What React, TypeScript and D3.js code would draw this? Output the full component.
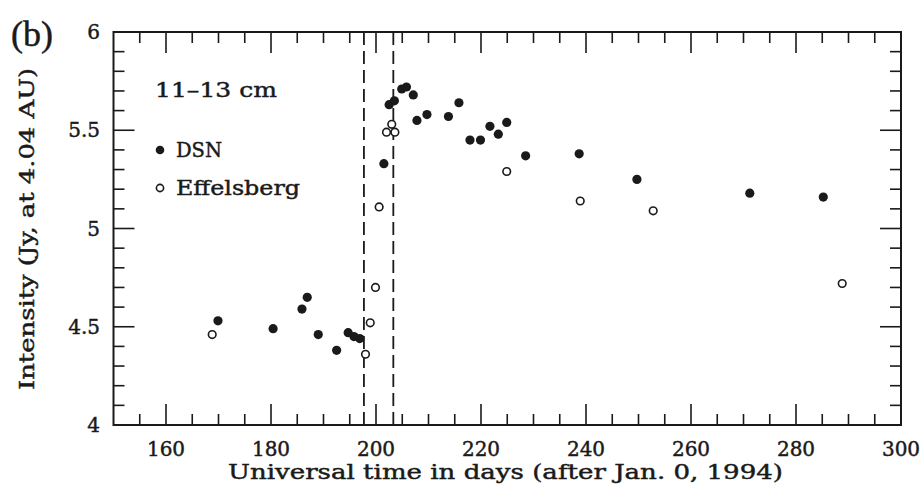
import React from "react";
import * as d3 from "d3";

// DSN (filled) measurements: day of 1994, flux density in Jy at 4.04 AU
const dsnDays = [169.9, 180.4, 185.9, 186.9, 189.0, 192.5, 194.7, 195.8, 196.9, 201.5, 202.5, 203.5, 204.9, 205.8, 207.1, 207.8, 209.7, 213.8, 215.8, 217.9, 219.9, 221.7, 223.3, 224.9, 228.5, 238.7, 249.7, 271.2, 285.2];
const dsnFlux = [4.53, 4.49, 4.59, 4.65, 4.46, 4.38, 4.47, 4.45, 4.44, 5.33, 5.63, 5.65, 5.71, 5.72, 5.68, 5.55, 5.58, 5.57, 5.64, 5.45, 5.45, 5.52, 5.48, 5.54, 5.37, 5.38, 5.25, 5.18, 5.16];

// Effelsberg (open) measurements
const effDays = [168.8, 198.0, 198.9, 199.9, 200.6, 202.0, 203.0, 203.6, 224.9, 238.9, 252.8, 288.8];
const effFlux = [4.46, 4.36, 4.52, 4.70, 5.11, 5.49, 5.53, 5.49, 5.29, 5.14, 5.09, 4.72];

// Impact period boundaries (dashed lines)
const impactDays = [197.7, 203.3];

const xMajorTicks = [160, 180, 200, 220, 240, 260, 280, 300];
const yMajorTicks = [4, 4.5, 5, 5.5, 6];

const W = 923;
const H = 485;
const M = { left: 113.5, right: 901, top: 32, bottom: 425 };

const FONT = "'DejaVu Serif', serif";
const INK = "#1a1a1a";

export default function App() {
  const x = d3.scaleLinear().domain([150, 300]).range([M.left, M.right]);
  const y = d3.scaleLinear().domain([4, 6]).range([M.bottom, M.top]);

  const xMinor = d3.range(155, 300, 5).filter((v) => v % 20 !== 0);
  const yMinor = d3.range(41, 60, 1).map((v) => v / 10).filter((v) => Math.round(v * 10) % 5 !== 0);

  const MAJ = 21;
  const MIN = 11;

  const dsn = dsnDays.map((d, i) => ({ d, v: dsnFlux[i] }));
  const eff = effDays.map((d, i) => ({ d, v: effFlux[i] }));

  // labels get a faint outline so they read a little heavier than the regular face
  const txt = { fill: INK, stroke: INK, strokeWidth: 0.45 };

  return (
    <svg
      width={W}
      height={H}
      style={{ position: "absolute", left: 0, top: 0, background: "#fff" }}
      fontFamily={FONT}
    >
      {/* panel tag */}
      <text x={11} y={46} fontSize={36} fontFamily="'Liberation Serif', serif" {...txt}>(b)</text>

      {/* impact window */}
      {impactDays.map((d) => (
        <line
          key={d}
          x1={x(d)}
          x2={x(d)}
          y1={M.top}
          y2={M.bottom}
          stroke={INK}
          strokeWidth={1.8}
          strokeDasharray="13,6"
        />
      ))}

      {/* x ticks, bottom and top */}
      {xMajorTicks.map((t) => (
        <g key={"xm" + t}>
          <line x1={x(t)} x2={x(t)} y1={M.bottom} y2={M.bottom - MAJ} stroke={INK} strokeWidth={1.6} />
          <line x1={x(t)} x2={x(t)} y1={M.top} y2={M.top + MAJ} stroke={INK} strokeWidth={1.6} />
          <text x={x(t)} y={456} fontSize={20} textAnchor="middle" {...txt}>{t}</text>
        </g>
      ))}
      {xMinor.map((t) => (
        <g key={"xn" + t}>
          <line x1={x(t)} x2={x(t)} y1={M.bottom} y2={M.bottom - MIN} stroke={INK} strokeWidth={1.6} />
          <line x1={x(t)} x2={x(t)} y1={M.top} y2={M.top + MIN} stroke={INK} strokeWidth={1.6} />
        </g>
      ))}

      {/* y ticks, left and right */}
      {yMajorTicks.map((t) => (
        <g key={"ym" + t}>
          <line x1={M.left} x2={M.left + MAJ} y1={y(t)} y2={y(t)} stroke={INK} strokeWidth={1.6} />
          <line x1={M.right} x2={M.right - MAJ} y1={y(t)} y2={y(t)} stroke={INK} strokeWidth={1.6} />
          <text x={100} y={y(t) + 7} fontSize={20} textAnchor="end" {...txt}>{t}</text>
        </g>
      ))}
      {yMinor.map((t) => (
        <g key={"yn" + t}>
          <line x1={M.left} x2={M.left + MIN} y1={y(t)} y2={y(t)} stroke={INK} strokeWidth={1.6} />
          <line x1={M.right} x2={M.right - MIN} y1={y(t)} y2={y(t)} stroke={INK} strokeWidth={1.6} />
        </g>
      ))}

      {/* frame */}
      <rect
        x={M.left}
        y={M.top}
        width={M.right - M.left}
        height={M.bottom - M.top}
        fill="none"
        stroke={INK}
        strokeWidth={2}
      />

      {/* data */}
      {dsn.map((p, i) => (
        <circle key={"d" + i} cx={x(p.d)} cy={y(p.v)} r={4.6} fill={INK} />
      ))}
      {eff.map((p, i) => (
        <circle key={"e" + i} cx={x(p.d)} cy={y(p.v)} r={3.8} fill="#fff" stroke={INK} strokeWidth={1.6} />
      ))}

      {/* legend */}
      <text x={155} y={97} fontSize={20} textLength={122} lengthAdjust="spacingAndGlyphs" {...txt}>11–13 cm</text>
      <circle cx={160} cy={150} r={4.3} fill={INK} />
      <text x={176} y={157} fontSize={20} textLength={46} lengthAdjust="spacingAndGlyphs" {...txt}>DSN</text>
      <circle cx={160} cy={188} r={3.6} fill="#fff" stroke={INK} strokeWidth={1.6} />
      <text x={176} y={195} fontSize={20} textLength={124} lengthAdjust="spacingAndGlyphs" {...txt}>Effelsberg</text>

      {/* axis titles */}
      <text x={228} y={479} fontSize={20} textLength={555} lengthAdjust="spacingAndGlyphs" {...txt}>
        Universal time in days (after Jan. 0, 1994)
      </text>
      <text
        transform={`translate(34, 229) rotate(-90)`}
        fontSize={20}
        textAnchor="middle"
        textLength={322}
        lengthAdjust="spacingAndGlyphs"
        {...txt}
      >
        Intensity (Jy, at 4.04 AU)
      </text>
    </svg>
  );
}
